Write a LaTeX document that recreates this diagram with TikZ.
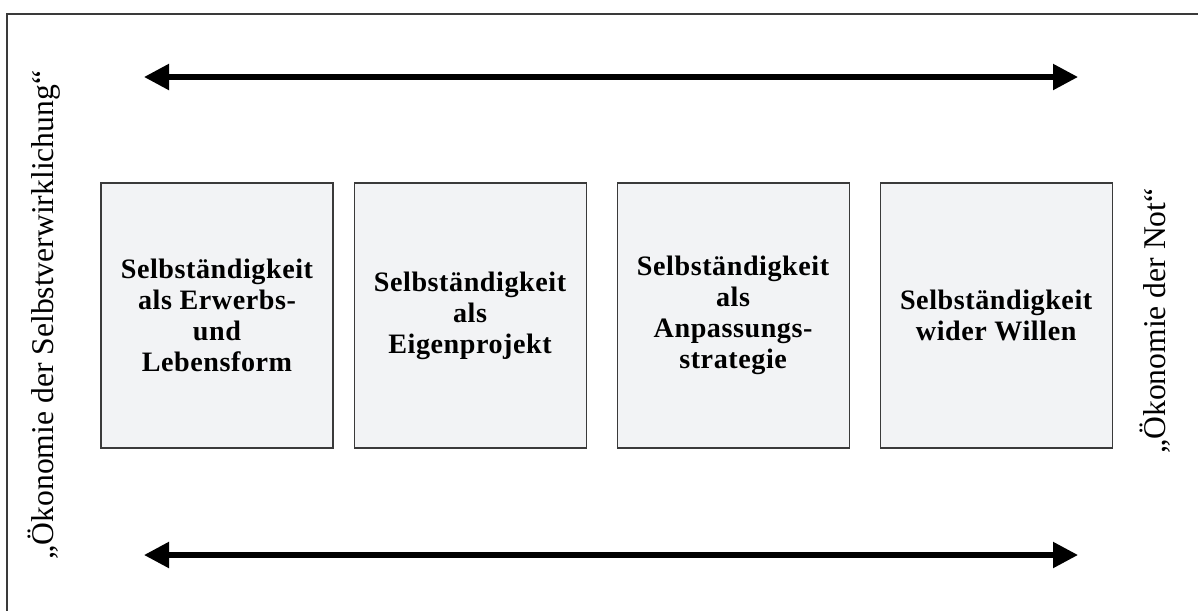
\documentclass[tikz,border=0pt]{standalone}
\usepackage{fontspec}
\setmainfont{Liberation Serif}
\newfontfamily\boxfont[LetterSpace=2]{Liberation Serif}
\usetikzlibrary{arrows.meta, positioning}
\definecolor{boxgray}{HTML}{F2F3F5}
\definecolor{framegray}{HTML}{3A3A3A}

\begin{document}
\begin{tikzpicture}[
    box/.style={rectangle, draw=framegray, line width=0.6pt, fill=boxgray, minimum width=4.64cm, minimum height=5.3cm, align=center, font=\boxfont\bfseries\fontsize{16}{17.6}\selectfont},
    axis/.style={{Triangle[length=0.5cm,width=0.5cm]}-{Triangle[length=0.5cm,width=0.5cm]}, line width=3pt},
    pole/.style={rotate=90, anchor=base, inner sep=0pt, font=\fontsize{18}{22}\selectfont},
    node distance=0.4cm and 0.6cm
]
\useasboundingbox (0,0) rectangle (23.96,-12.2);
\draw[framegray, line width=0.6pt] (0.14,-0.28) rectangle (24.4,-12.6);

\node[box] (erwerb) at (4.34,-6.31) {Selbständigkeit\\als Erwerbs-\\und\\Lebensform};
\node[box, right=0.4cm of erwerb] (eigen) {Selbständigkeit\\als\\Eigenprojekt};
\node[box, right=of eigen] (anpassung) {Selbständigkeit\\als\\Anpassungs-\\strategie};
\node[box, right=of anpassung] (wider) {Selbständigkeit\\wider Willen};

\node[pole] (selbst) at (1.06,-6.3) {„Ökonomie der Selbstverwirklichung“};
\node[pole] (not) at (23.3,-6.42) {„Ökonomie der Not“};

\coordinate (topl) at (2.88,-1.54);
\coordinate (topr) at (21.56,-1.54);
\coordinate (botl) at (2.88,-11.1);
\coordinate (botr) at (21.56,-11.1);

\draw[axis] (topl) -- (topr);
\draw[axis] (botl) -- (botr);
\end{tikzpicture}
\end{document}
